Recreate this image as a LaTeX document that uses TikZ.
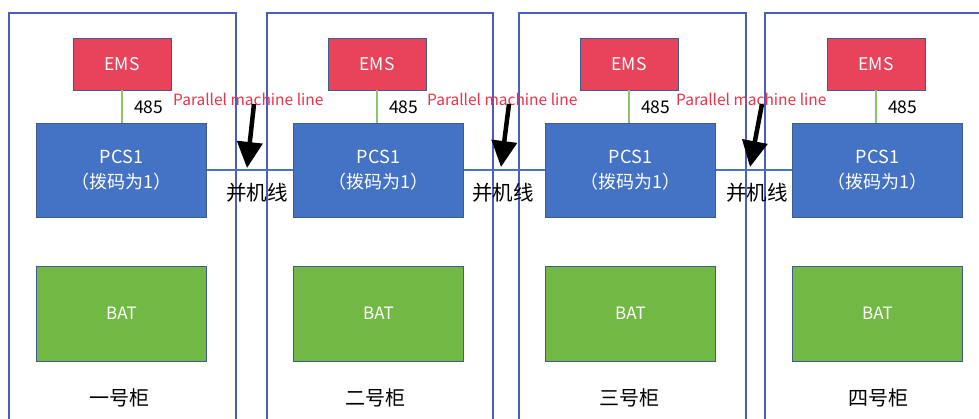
\documentclass[tikz,border=0pt]{standalone}
\usepackage{fontspec}
\setmainfont{Noto Sans CJK SC}
\usetikzlibrary{arrows.meta}
\definecolor{cabline}{HTML}{4A5EC0}
\definecolor{emsred}{HTML}{E8435A}
\definecolor{pcsblue}{HTML}{4472C4}
\definecolor{batgreen}{HTML}{72B844}
\definecolor{boxedge}{HTML}{3E5C8F}
\definecolor{linegreen}{HTML}{8CC66B}
\definecolor{redtext}{HTML}{E8344A}
\tikzset{
  x=1pt, y=-1pt,
  cabinet/.style={draw=cabline, line width=1.2pt},
  emsbox/.style={draw=boxedge, line width=0.8pt, fill=emsred, text=white, minimum width=98pt, minimum height=52pt, inner sep=0pt, font=\fontsize{17.5}{19}\selectfont},
  pcsbox/.style={draw=boxedge, line width=0.8pt, fill=pcsblue, text=white, minimum width=170pt, minimum height=94pt, inner sep=0pt, align=center, font=\fontsize{18}{25}\selectfont},
  batbox/.style={draw=boxedge, line width=0.8pt, fill=batgreen, text=white, minimum width=170pt, minimum height=95pt, inner sep=0pt, font=\fontsize{17}{19}\selectfont},
  cablabel/.style={inner sep=0pt, font=\fontsize{20}{22}\selectfont},
  rslabel/.style={inner sep=0pt, anchor=west, font=\fontsize{17.5}{19}\selectfont},
  redlabel/.style={inner sep=0pt, anchor=west, text=redtext, font=\fontsize{15.5}{17}\selectfont},
  parlabel/.style={inner sep=0pt, font=\fontsize{20.5}{22}\selectfont},
  rsline/.style={draw=linegreen, line width=1.2pt},
  parline/.style={draw=pcsblue, line width=1.2pt},
  bigarrow/.style={line width=4.5pt, -{Triangle[width=25pt,length=26pt]}},
}
\begin{document}
\begin{tikzpicture}
\useasboundingbox (0,0) rectangle (979,418);
\clip (0,0) rectangle (979,418);
\fill[white] (0,0) rectangle (979,418);
% cabinets (open at the bottom)
\foreach \i/\cabl/\cabr/\ex/\px/\lx/\lab in {1/9/236/122/121.5/119/一号柜, 2/267/493/377/378.5/375/二号柜, 3/519/746/629/630.5/629/三号柜, 4/765/1000/876/877.5/878/四号柜}{
  \draw[cabinet] (\cabl,425) -- (\cabl,13) -- (\cabr,13) -- (\cabr,425);
  \node[emsbox] (ems\i) at (\ex,64) {EMS};
  \node[pcsbox] (pcs\i) at (\px,170) {PCS1\\（拨码为1）};
  \node[batbox] (bat\i) at (\px,313.5) {BAT};
  \node[cablabel] (lab\i) at (\lx,398) {\lab};
  \draw[rsline] (ems\i.south) -- (ems\i.south |- pcs\i.north);
  \node[rslabel] (rs\i) at (\ex+12,107) {485};
}
% parallel machine lines
\foreach \i/\j/\tx/\ax/\ay/\bx/\by/\cx in {1/2/173/254/104/247/168/257, 2/3/427/509/104/501/167/503, 3/4/676/762/104/750/167/757}{
  \draw[parline] (pcs\i.east) -- (pcs\j.west);
  \node[redlabel] (red\i) at (\tx,99) {Parallel machine line};
  \coordinate (at\i) at (\ax,\ay);
  \coordinate (ah\i) at (\bx,\by);
  \draw[bigarrow] (at\i) -- (ah\i);
  \node[parlabel] (par\i) at (\cx,193) {并机线};
}
\end{tikzpicture}
\end{document}
